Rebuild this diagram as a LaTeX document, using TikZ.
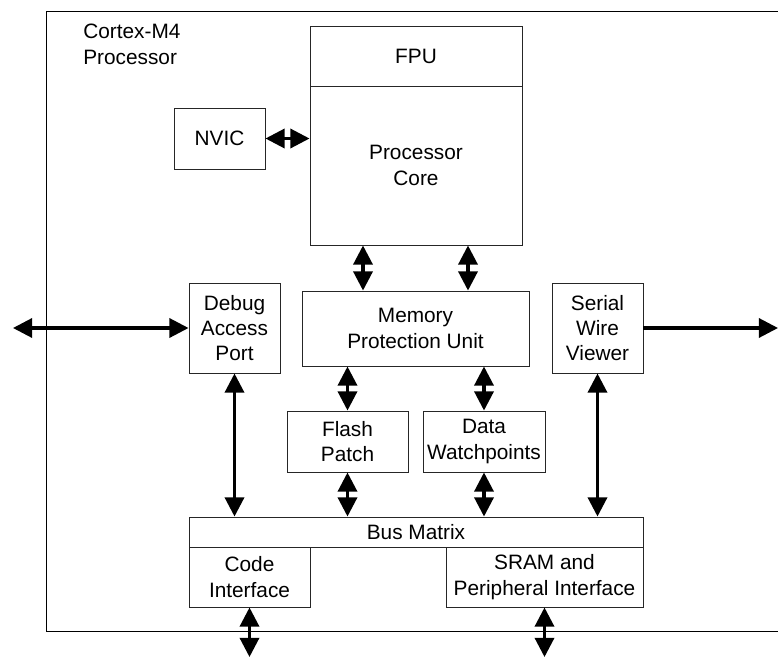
\documentclass[tikz,border=0pt]{standalone}
\usepackage{fontspec}
\setmainfont{Liberation Sans}
\usetikzlibrary{arrows.meta}

\begin{document}
\begin{tikzpicture}[x=0.025cm,y=-0.025cm,
  blk/.style 2 args={draw=black!85, line width=0.7pt, inner sep=0pt, align=center,
    minimum width=#1*0.025cm, minimum height=#2*0.025cm, font=\fontsize{14.8}{18}\selectfont},
  biarr/.style={{Triangle[length=0.48cm,width=0.48cm]}-{Triangle[length=0.48cm,width=0.48cm]}, line width=2.2pt},
  onearr/.style={-{Triangle[length=0.48cm,width=0.48cm]}, line width=2.2pt}]
\useasboundingbox (0,0) rectangle (778,658);

% Processor outline
\draw[line width=0.7pt] (778,11) -- (46,11) -- (46,631) -- (778,631);
\node[anchor=north west, align=left, inner sep=0pt, font=\fontsize{14.8}{18}\selectfont] (cpulbl) at (83,24) {Cortex-M4\\Processor};

% Core, FPU and NVIC
\node[blk={212}{60}] (fpu) at (416,56) {FPU};
\node[blk={212}{159}] (core) at (416,165.5) {Processor\\Core};
\node[blk={91}{61}] (nvic) at (219.5,138.5) {NVIC};

% Middle row
\node[blk={227}{75}] (mpu) at (415.5,328.5) {Memory\\Protection Unit};
\node[blk={91}{90}] (dap) at (234.5,328) {Debug\\Access\\Port};
\node[blk={91}{90}] (swv) at (597.5,328) {Serial\\Wire\\Viewer};
\node[blk={121}{61}] (flash) at (347.5,441.5) {Flash\\Patch};
\node[blk={122}{61}] (dwt) at (484,441.5) {Data\\Watchpoints};

% Bus and interfaces
\node[blk={454}{30}] (bus) at (416,532) {Bus Matrix};
\node[blk={121}{60}] (code) at (249.5,577) {Code\\Interface};
\node[blk={197}{60}] (sram) at (544.5,577) {SRAM and\\Peripheral Interface};

% Outside ends
\coordinate (dbgout) at (13,328);
\coordinate (swvout) at (778,328);
\coordinate (codeout) at (249.5,657);
\coordinate (sramout) at (544.5,657);

% Connections
\draw[biarr] (nvic.east) -- (nvic.east -| core.west);
\draw[biarr] (363,0 |- core.south) -- (363,0 |- mpu.north);
\draw[biarr] (468,0 |- core.south) -- (468,0 |- mpu.north);
\draw[biarr] (flash.north |- mpu.south) -- (flash.north);
\draw[biarr] (dwt.north |- mpu.south) -- (dwt.north);
\draw[biarr] (flash.south) -- (flash.south |- bus.north);
\draw[biarr] (dwt.south) -- (dwt.south |- bus.north);
\draw[biarr] (dap.south) -- (dap.south |- bus.north);
\draw[biarr] (swv.south) -- (swv.south |- bus.north);
\draw[biarr] (dbgout) -- (dap.west);
\draw[onearr] (swv.east) -- (swvout);
\draw[biarr] (code.south) -- (codeout);
\draw[biarr] (sram.south) -- (sramout);
\end{tikzpicture}
\end{document}
